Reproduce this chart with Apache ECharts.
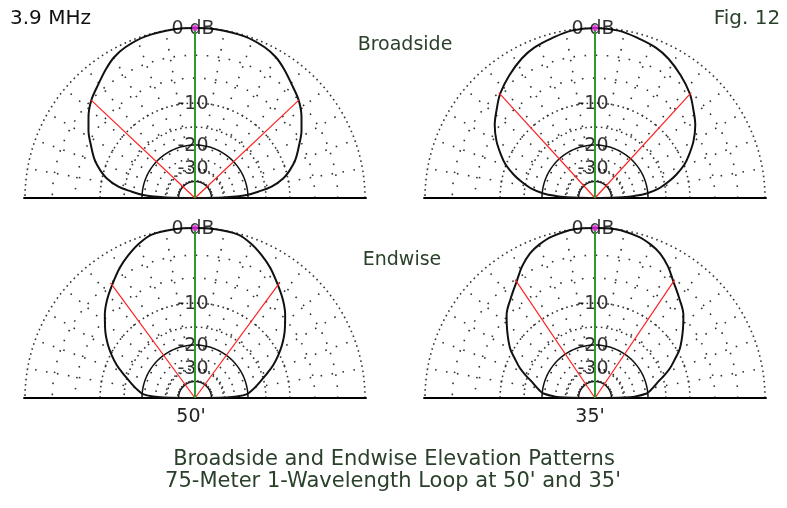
<!DOCTYPE html>
<html lang="en">
<head>
<meta charset="UTF-8">
<title>Loop elevation patterns</title>
<script src="https://cdn.jsdelivr.net/npm/echarts@6/dist/echarts.min.js"></script>
<style>
  html, body { margin: 0; background: #fff; }
  #main { width: 787px; height: 508px; }
</style>
</head>
<body>
<div id="main"></div>
<script>
// elevation angle (deg, right half 0..90) and relative gain (dB); left half is mirrored
var bsAngles50 = [0, 1, 2, 3.3, 5.7, 8.4, 12.6, 16.4, 20.8, 26.3, 32.5, 37.3, 43.5, 49.9, 55.4, 60, 65.2, 73, 83, 90];
var bsGain50   = [-99, -30.5, -24.5, -20.4, -16.9, -13.5, -10.8, -9.3, -7.9, -6.6, -5.1, -4.1, -3.0, -2.2, -1.4, -0.8, -0.4, -0.1, 0, 0];

var bsAngles35 = [0, 0.5, 1.5, 3, 5, 8, 12.5, 16, 20.5, 24.4, 30, 36.1, 42, 47.8, 55, 62.3, 68, 74.8, 82, 90];
var bsGain35   = [-99, -40, -31, -25, -20.4, -17, -14, -12, -9.9, -8.6, -6.9, -5.4, -4.3, -3.2, -2.2, -1.3, -0.8, -0.46, -0.1, 0];

var ewAngles50 = [0, 1, 2, 4, 8, 11, 15.1, 19, 22.9, 27, 31.3, 37, 42.7, 48, 53.8, 60, 65, 70, 75.2, 83, 90];
var ewGain50   = [-99, -29, -24, -20.5, -18.5, -17.2, -15.5, -13.7, -11.9, -10.3, -8.8, -7.1, -5.6, -4.4, -3.3, -2.1, -1.3, -0.6, -0.1, 0, 0];

var ewAngles35 = [0, 1, 2, 5, 8, 11, 14.5, 18, 21.6, 26, 30.3, 37, 43.2, 50, 56, 61, 65.8, 70, 75, 83, 90];
var ewGain35   = [-99, -30, -25, -20.4, -19, -17.8, -16.4, -14.6, -12.8, -11.1, -9.4, -7.5, -5.8, -4.5, -3.3, -2.1, -1.2, -0.7, -0.3, 0, 0];

// -3 dB beamwidth angles (right side)
var beamAngles = [43.3, 47.6, 53.7, 56];

var ringLabelDb = [0, -10, -20, -30];
var ringLabelText = ['0 dB', '-10', '-20', '-30'];

// ARRL log scale: 0.89 per 2 dB
function arrl(db) { return Math.pow(0.89, -db / 2); }

var plots = [
  { ang: bsAngles50, gain: bsGain50, beam: beamAngles[0], cx: 195, cy: 198 },
  { ang: bsAngles35, gain: bsGain35, beam: beamAngles[1], cx: 595, cy: 198 },
  { ang: ewAngles50, gain: ewGain50, beam: beamAngles[2], cx: 195, cy: 398 },
  { ang: ewAngles35, gain: ewGain35, beam: beamAngles[3], cx: 595, cy: 398 }
];

var dense = { color: '#333', width: 1.6, type: [1.6, 3.6] };
var sparse = { color: '#333', width: 1.6, type: [1.6, 9.5] };
var solid = { color: '#111', width: 1.5, type: 'solid' };
var rings = [
  { db: 0, st: dense }, { db: -3, st: sparse }, { db: -6, st: sparse },
  { db: -10, st: dense }, { db: -15, st: dense }, { db: -20, st: solid },
  { db: -30, st: dense }, { db: -40, st: solid }
];

var polar = [], angleAxis = [], radiusAxis = [], series = [];

function polarLine(i, data, style, z, smooth) {
  return { type: 'line', coordinateSystem: 'polar', polarIndex: i, data: data, symbol: 'none',
    clip: false, smooth: smooth || false, lineStyle: style, z: z, silent: true };
}

plots.forEach(function (p, i) {
  polar.push({ center: [p.cx, p.cy], radius: 170 });
  angleAxis.push({
    polarIndex: i, type: 'value', min: 0, max: 360, startAngle: 0, clockwise: false,
    axisLine: { show: false }, axisTick: { show: false }, axisLabel: { show: false }, splitLine: { show: false }
  });
  radiusAxis.push({
    polarIndex: i, type: 'value', min: 0, max: 1.1,
    axisLine: { show: false }, axisTick: { show: false }, axisLabel: { show: false }, splitLine: { show: false }
  });

  // grid rings
  rings.forEach(function (rg) {
    var d = [];
    for (var a = 0; a <= 180; a += 1) d.push([arrl(rg.db), a]);
    series.push(polarLine(i, d, rg.st, 1));
  });
  // radial lines every 10 deg
  for (var a = 10; a < 180; a += 10) {
    if (a === 90) continue;
    series.push(polarLine(i, [[arrl(-40), a], [1, a]], sparse, 1));
  }
  // ground line
  series.push(polarLine(i, [[1.01, 0], [1.01, 180]], { color: '#000', width: 2 }, 2));

  // pattern
  var pat = [];
  for (var k = 0; k < p.ang.length; k++) pat.push([arrl(p.gain[k]), p.ang[k]]);
  for (var k = p.ang.length - 2; k >= 0; k--) pat.push([arrl(p.gain[k]), 180 - p.ang[k]]);
  series.push(polarLine(i, pat, { color: '#111', width: 2 }, 3, 0.35));

  // ring labels
  series.push({ type: 'scatter', coordinateSystem: 'polar', polarIndex: i, symbolSize: 1,
    itemStyle: { color: 'rgba(0,0,0,0)' }, z: 4, clip: false,
    data: ringLabelDb.map(function (db, j) { return { value: [arrl(db), 90], name: ringLabelText[j] }; }),
    label: { show: true, position: 'inside', offset: [-2, 1], formatter: '{b}', color: '#000',
      textBorderWidth: 0, fontSize: 19, fontFamily: 'DejaVu Sans' } });

  // -3 dB lines
  [p.beam, 180 - p.beam].forEach(function (b) {
    series.push(polarLine(i, [[0, b], [arrl(-3), b]], { color: '#ff2020', width: 1.2 }, 5));
  });
  // max direction
  series.push(polarLine(i, [[0, 90], [1, 90]], { color: '#2f9a2f', width: 2 }, 6));
  series.push({ type: 'scatter', coordinateSystem: 'polar', polarIndex: i, data: [[1, 90]], clip: false,
    symbol: 'circle', symbolSize: 6, itemStyle: { color: '#e020e0' }, z: 7 });
});

// the radius axis runs to 1.1 so the 0 dB ring (1.0) sits at 170 px
polar.forEach(function (pl) { pl.radius = 187; });

var green = '#2a402a';
function txt(s, x, y, size, color, align) {
  return { type: 'text', x: x, y: y, silent: true,
    style: { text: s, font: size + 'px "DejaVu Sans"', fill: color, align: align || 'center', verticalAlign: 'middle' } };
}

var chart = echarts.init(document.getElementById('main'));
chart.setOption({
  animation: false,
  backgroundColor: '#fff',
  polar: polar,
  angleAxis: angleAxis,
  radiusAxis: radiusAxis,
  series: series,
  graphic: [
    txt('3.9 MHz', 10, 19, 20, '#111', 'left'),
    txt('Fig. 12', 747, 19, 20, green),
    txt('Broadside', 405, 45, 19, green),
    txt('Endwise', 402, 260, 19, green),
    txt("50'", 191, 417, 19, '#222'),
    txt("35'", 590, 417, 19, '#222'),
    txt('Broadside and Endwise Elevation Patterns', 394, 460, 21, green),
    txt("75-Meter 1-Wavelength Loop at 50' and 35'", 393, 482, 21, green)
  ]
});
</script>
</body>
</html>
